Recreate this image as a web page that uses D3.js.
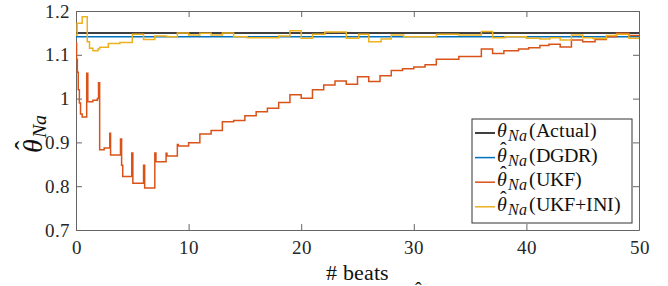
<!DOCTYPE html>
<html>
<head>
<meta charset="utf-8">
<script src="https://cdn.jsdelivr.net/npm/d3@7"></script>
<style>
  @font-face { font-family: "ChartSerif"; font-style: normal; src: local("Liberation Serif"), local("LiberationSerif"), local("Liberation Serif Regular"), local("LiberationSerif-Regular"); }
  @font-face { font-family: "ChartSerif"; font-style: italic; src: local("Liberation Serif Italic"), local("LiberationSerif-Italic"); }
  body { margin: 0; background: #fff; }
  svg { display: block; }
  text, tspan { font-family: "ChartSerif", "Liberation Serif", "Times New Roman", FreeSerif, serif !important; }
</style>
</head>
<body>
<svg id="chart"></svg>
<script>
// beats vs. estimate, step-wise series
const xTicks = [0, 10, 20, 30, 40, 50];
const yTicks = [0.7, 0.8, 0.9, 1.0, 1.1, 1.2];

const actualNa = [[0, 1.15], [50, 1.15]];
const dgdrNa = [[0, 1.141], [50, 1.141]];

const ukfNa = [
  [0, 1.127], [0.05, 1.09], [0.12, 1.06], [0.2, 1.02], [0.3, 0.99], [0.4, 0.965], [0.55, 0.958],
  [0.95, 1.058], [1.05, 0.993], [1.5, 0.996], [1.9, 1.0], [2.0, 1.036], [2.1, 0.883], [2.5, 0.887],
  [3.0, 0.921], [3.07, 0.871], [3.95, 0.908], [4.05, 0.848], [4.15, 0.822], [4.95, 0.876],
  [5.05, 0.807], [6.0, 0.848], [6.1, 0.796], [7.0, 0.876], [7.1, 0.856], [8.0, 0.875],
  [8.08, 0.869], [9.0, 0.895], [9.08, 0.892], [10.0, 0.899], [11.0, 0.919], [12.0, 0.927],
  [13.0, 0.947], [14.0, 0.950], [15.0, 0.961], [16.0, 0.970], [17.0, 0.978], [18.0, 0.991],
  [19.0, 1.009], [20.0, 1.001], [21.0, 1.020], [22.0, 1.031], [23.0, 1.040], [24.0, 1.033],
  [25.0, 1.050], [26.0, 1.039], [27.0, 1.052], [28.0, 1.064], [29.0, 1.068], [30.0, 1.072],
  [31.0, 1.077], [32.0, 1.090], [34.0, 1.096], [36.0, 1.113], [37.0, 1.103], [38.0, 1.109],
  [39.3, 1.113], [40.2, 1.116], [41.2, 1.121], [42.0, 1.124], [43.0, 1.118], [44.0, 1.134],
  [45.0, 1.130], [46.1, 1.135], [47.1, 1.141], [48.0, 1.149], [49.1, 1.144], [50, 1.144]
];

const ukfIniNa = [
  [0, 1.145], [0.1, 1.172], [0.55, 1.187], [1.0, 1.13], [1.2, 1.115], [1.5, 1.109], [1.95, 1.113],
  [2.1, 1.117], [2.87, 1.126], [3.9, 1.128], [5.0, 1.147], [6.0, 1.135], [7.0, 1.143],
  [8.05, 1.141], [9.0, 1.150], [10.0, 1.145], [11.0, 1.149], [12.0, 1.145], [13.0, 1.150],
  [14.0, 1.141], [15.2, 1.139], [18.0, 1.143], [19.0, 1.155], [20.0, 1.138], [21.0, 1.147],
  [22.1, 1.152], [24.0, 1.138], [25.1, 1.147], [26.0, 1.130], [27.1, 1.136], [28.0, 1.145],
  [29.1, 1.141], [32.0, 1.147], [34.0, 1.145], [36.0, 1.153], [37.0, 1.139], [38.1, 1.141],
  [40.0, 1.138], [41.2, 1.136], [42.1, 1.139], [43.0, 1.134], [44.0, 1.145], [45.0, 1.139],
  [45.9, 1.137], [47.1, 1.144], [48.0, 1.147], [49.1, 1.138], [50, 1.138]
];

const seriesNames = ["Actual", "DGDR", "UKF", "UKF+INI"];
const seriesHat = [false, true, true, true];
const seriesColors = ["#000000", "#0072BD", "#D95319", "#EDB120"];
const seriesData = [actualNa, dgdrNa, ukfNa, ukfIniNa];

const margin = { top: 11, right: 29, bottom: 56, left: 76 };
const width = 668 - margin.left - margin.right;
const height = 286 - margin.top - margin.bottom;

const svg = d3.select("#chart").attr("width", 668).attr("height", 286);

const g = svg.append("g").attr("transform", `translate(${margin.left},${margin.top})`);

const xscale = d3.scaleLinear().domain([0, 50]).range([0, width]);
const yscale = d3.scaleLinear().domain([0.7, 1.2]).range([height, 0]);

g.append("clipPath").attr("id", "plotclip")
  .append("rect").attr("width", width).attr("height", height);

const fmt = (d) => String(+d.toFixed(1));

// axes, ticks pointing inward like the original box
g.append("g").attr("class", "axis")
  .attr("transform", `translate(0,${height})`)
  .call(d3.axisBottom(xscale).tickValues(xTicks).tickSizeInner(-6).tickSizeOuter(0).tickPadding(11));
g.append("g").attr("class", "axis")
  .call(d3.axisTop(xscale).tickValues(xTicks).tickSizeInner(-6).tickSizeOuter(0).tickFormat(""));
g.append("g").attr("class", "axis")
  .call(d3.axisLeft(yscale).tickValues(yTicks).tickSizeInner(-6).tickSizeOuter(0).tickPadding(6).tickFormat(fmt));
g.append("g").attr("class", "axis")
  .attr("transform", `translate(${width},0)`)
  .call(d3.axisRight(yscale).tickValues(yTicks).tickSizeInner(-6).tickSizeOuter(0).tickFormat(""));
g.selectAll(".axis").attr("font-size", 19).attr("font-family", null);
g.selectAll(".axis text").attr("fill", "#262626");
g.selectAll(".axis line, .axis path").attr("stroke", "#666");

const line = d3.line()
  .x((d) => xscale(d[0]))
  .y((d) => yscale(d[1]))
  .curve(d3.curveStepAfter);

g.append("g").attr("clip-path", "url(#plotclip)")
  .selectAll("path")
  .data(seriesData)
  .join("path")
  .attr("d", line)
  .attr("fill", "none")
  .attr("stroke", (d, i) => seriesColors[i])
  .attr("stroke-width", 1.5);

// legend
const legend = svg.append("g").attr("transform", "translate(472,119)");
legend.append("rect")
  .attr("width", 160).attr("height", 104)
  .attr("fill", "#fff").attr("stroke", "#333").attr("stroke-width", 1);

const rows = legend.selectAll("g.row")
  .data(seriesNames)
  .join("g")
  .attr("class", "row")
  .attr("transform", (d, i) => `translate(0,${14 + i * 24.6})`);

rows.append("line")
  .attr("x1", 3).attr("x2", 23)
  .attr("stroke", (d, i) => seriesColors[i]).attr("stroke-width", 1.5);

const lt = rows.append("text")
  .attr("x", 25).attr("y", 4)
  .attr("font-size", 20).attr("fill", "#111");
lt.append("tspan").attr("font-style", "italic").text("θ");
lt.append("tspan").attr("font-style", "italic").attr("font-size", 16)
  .attr("dx", 1).attr("dy", 4).text("Na");
lt.append("tspan").attr("dx", 2).attr("dy", -4).text((d) => `(${d})`);

rows.filter((d, i) => seriesHat[i]).append("text")
  .attr("x", 31).attr("y", -2)
  .attr("text-anchor", "middle")
  .attr("font-size", 20).attr("fill", "#111")
  .text("ˆ");

// y label
const yl = svg.append("g").attr("transform", "translate(42,153) rotate(-90)");
const ylt = yl.append("text").attr("font-size", 28).attr("fill", "#111");
ylt.append("tspan").attr("font-style", "italic").text("θ");
ylt.append("tspan").attr("font-style", "italic").attr("font-size", 20)
  .attr("dx", 1).attr("dy", 4).text("Na");
yl.append("text")
  .attr("x", 8).attr("y", -8)
  .attr("text-anchor", "middle")
  .attr("font-size", 28).attr("fill", "#111")
  .text("ˆ");

// x label
svg.append("text")
  .attr("x", margin.left + width / 2).attr("y", 280)
  .attr("text-anchor", "middle")
  .attr("font-size", 22).attr("fill", "#111")
  .text("# beats");

// cut-off hat of the caption below
svg.append("text")
  .attr("x", 418).attr("y", 296)
  .attr("text-anchor", "middle")
  .attr("font-size", 20).attr("fill", "#111")
  .text("ˆ");
</script>
</body>
</html>
